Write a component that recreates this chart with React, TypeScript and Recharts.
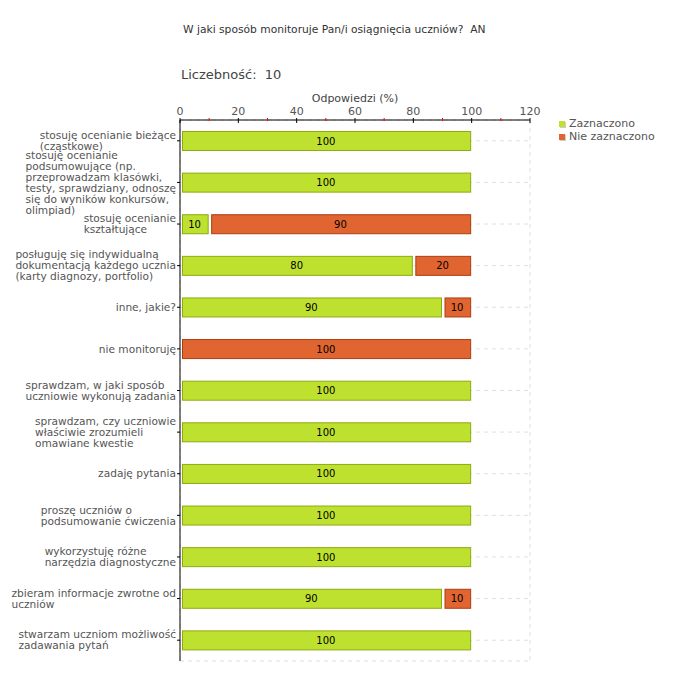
import React from 'react';
import { BarChart, Bar, XAxis, YAxis, CartesianGrid, LabelList } from 'recharts';

const categories = [
  'stosuję ocenianie bieżące\n(cząstkowe)',
  'stosuję ocenianie\npodsumowujące (np.\nprzeprowadzam klasówki,\ntesty, sprawdziany, odnoszę\nsię do wyników konkursów,\nolimpiad)',
  'stosuję ocenianie\nkształtujące',
  'posługuję się indywidualną\ndokumentacją każdego ucznia\n(karty diagnozy, portfolio)',
  'inne, jakie?',
  'nie monitoruję',
  'sprawdzam, w jaki sposób\nuczniowie wykonują zadania',
  'sprawdzam, czy uczniowie\nwłaściwie zrozumieli\nomawiane kwestie',
  'zadaję pytania',
  'proszę uczniów o\npodsumowanie ćwiczenia',
  'wykorzystuję różne\nnarzędzia diagnostyczne',
  'zbieram informacje zwrotne od\nuczniów',
  'stwarzam uczniom możliwość\nzadawania pytań',
];
const zaznaczono = [100, 100, 10, 80, 90, 0, 100, 100, 100, 100, 100, 90, 100];
const nieZaznaczono = [0, 0, 90, 20, 10, 100, 0, 0, 0, 0, 0, 10, 0];
const xTicks = [0, 10, 20, 30, 40, 50, 60, 70, 80, 90, 100, 110, 120];
const gridValues = [20, 40, 60, 80, 100, 120];

const data = categories.map((name, i) => ({ name, zaz: zaznaczono[i], nie: nieZaznaczono[i] }));

const FONT = '"DejaVu Sans", Verdana, sans-serif';
const GREEN = '#bee130';
const GREEN_EDGE = '#8eaa10';
const ORANGE = '#e06530';
const ORANGE_EDGE = '#ae3c10';
const LABEL_SIZE = 10.6;

let ctx: CanvasRenderingContext2D | null = null;
function measure(s: string, font: string) {
  if (!ctx) ctx = document.createElement('canvas').getContext('2d');
  if (!ctx) return s.length * 5.5;
  ctx.font = font;
  return ctx.measureText(s).width;
}

const YTick = (props: any) => {
  const { x, y, payload } = props;
  const lines = String(payload.value).split('\n');
  const w = Math.max(...lines.map((l) => measure(l, `${LABEL_SIZE}px ${FONT}`)));
  const lh = 11;
  const y0 = y - ((lines.length - 1) * lh) / 2;
  return (
    <text x={x - w} y={y0} fontSize={LABEL_SIZE} fontFamily={FONT} fill="#555" textAnchor="start">
      {lines.map((l, i) => (
        <tspan key={i} x={x - w} y={y0 + i * lh} dy="0.35em">
          {l}
        </tspan>
      ))}
    </text>
  );
};

const XTick = (props: any) => {
  const { x, y, payload } = props;
  const major = payload.value % 20 === 0;
  return (
    <g>
      {major ? (
        <>
          <line x1={x} x2={x} y1={y - 2} y2={y + 3} stroke="#000" />
          <text x={x} y={y - 5} fontSize={11} fontFamily={FONT} fill="#555" textAnchor="middle">
            {payload.value}
          </text>
        </>
      ) : (
        <line x1={x} x2={x} y1={y - 2} y2={y + 1} stroke="#e00" />
      )}
    </g>
  );
};

const Segment = (props: any) => {
  const { x, y, width, height, fill, stroke } = props;
  if (!width || width <= 0) return null;
  return (
    <rect x={x + 2.5} y={y + 0.5} width={Math.max(width - 3.5, 1)} height={height - 1} fill={fill} stroke={stroke} strokeWidth={1} />
  );
};

const fmt = (v: any) => (v > 0 ? v : '');

export default function App() {
  return (
    <div style={{ position: 'absolute', left: 0, top: 0, width: 680, height: 680, background: '#fff', fontFamily: FONT }}>
      <div style={{ position: 'absolute', left: 183, top: 23, fontSize: 10.7, color: '#333', whiteSpace: 'pre' }}>
        W jaki sposób monitoruje Pan/i osiągnięcia uczniów?  AN
      </div>
      <div style={{ position: 'absolute', left: 181, top: 67, fontSize: 13, color: '#444', whiteSpace: 'pre' }}>
        Liczebność:  10
      </div>
      <div style={{ position: 'absolute', left: 180, width: 350, top: 92, fontSize: 11, color: '#444', textAlign: 'center' }}>
        Odpowiedzi (%)
      </div>
      <div style={{ position: 'absolute', left: 559, top: 117, fontSize: 11, color: '#555', lineHeight: '13px' }}>
        {[
          ['Zaznaczono', GREEN],
          ['Nie zaznaczono', ORANGE],
        ].map(([t, c]) => (
          <div key={t} style={{ display: 'flex', alignItems: 'center' }}>
            <span style={{ display: 'inline-block', width: 6, height: 6, background: c, boxShadow: '1px 1px 0 #ccc', marginRight: 4 }} />
            {t}
          </div>
        ))}
      </div>
      <BarChart
        width={680}
        height={680}
        data={data}
        layout="vertical"
        barSize={20}
        margin={{ top: 90, right: 150, bottom: 19, left: 0 }}
      >
        <CartesianGrid stroke="#e0e0e0" strokeDasharray="4 4" xAxisId="grid" />
        <XAxis xAxisId="grid" type="number" domain={[0, 120]} ticks={gridValues} hide />
        <XAxis
          type="number"
          orientation="top"
          domain={[0, 120]}
          ticks={xTicks}
          interval={0}
          height={30}
          tickSize={0}
          tickMargin={0}
          tickLine={false}
          axisLine={{ stroke: '#000' }}
          tick={<XTick />}
        />
        <YAxis
          type="category"
          dataKey="name"
          width={180}
          tickSize={3}
          tickMargin={1}
          interval={0}
          axisLine={{ stroke: '#000' }}
          tickLine={{ stroke: '#000' }}
          tick={<YTick />}
        />
        <Bar dataKey="zaz" stackId="a" fill={GREEN} stroke={GREEN_EDGE} shape={<Segment />} isAnimationActive={false}>
          <LabelList dataKey="zaz" position="center" formatter={fmt} fontSize={10} fontFamily={FONT} fill="#000" />
        </Bar>
        <Bar dataKey="nie" stackId="a" fill={ORANGE} stroke={ORANGE_EDGE} shape={<Segment />} isAnimationActive={false}>
          <LabelList dataKey="nie" position="center" formatter={fmt} fontSize={10} fontFamily={FONT} fill="#000" />
        </Bar>
      </BarChart>
    </div>
  );
}
